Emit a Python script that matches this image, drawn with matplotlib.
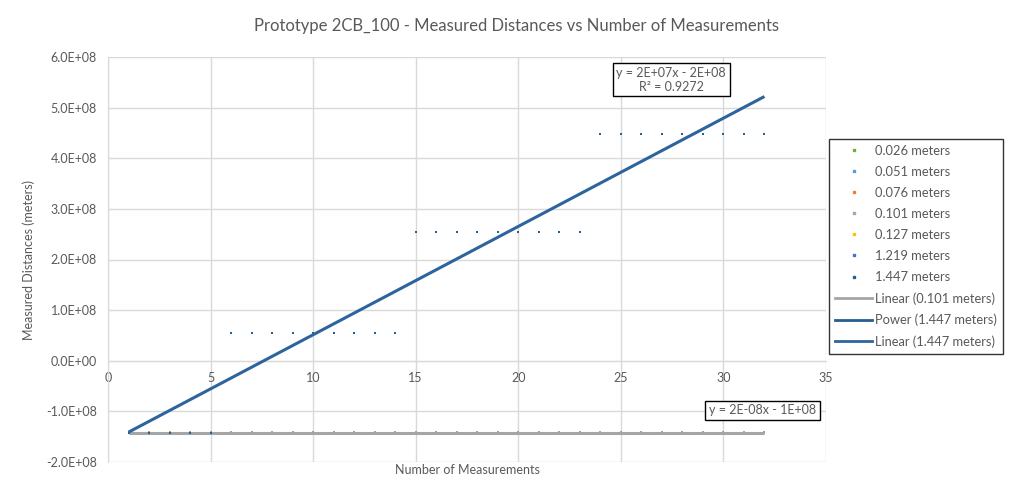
import numpy as np
import matplotlib
matplotlib.use("Agg")
import matplotlib.pyplot as plt
from matplotlib.lines import Line2D
from matplotlib.ticker import FuncFormatter, MultipleLocator

plt.rcParams['font.family'] = ['Lato', 'DejaVu Sans']

# ---- data ----
measurements = list(range(1, 33))
series_names = ["0.026 meters", "0.051 meters", "0.076 meters", "0.101 meters",
                "0.127 meters", "1.219 meters", "1.447 meters"]
series_colors = ["#70ad47", "#5b9bd5", "#ed7d31", "#a5a5a5", "#ffc000", "#4472c4", "#255e91"]

dist_0101 = [-1.42e8] * 32
dist_0076 = [-1.41e8] * 32
dist_1447 = ([-1.42e8] * 5 + [0.55e8] * 9 + [2.54e8] * 9 + [4.47e8] * 9)

title = "Prototype 2CB_100 - Measured Distances vs Number of Measurements"
xlabel = "Number of Measurements"
ylabel = "Measured Distances (meters)"
eq_1447 = "y = 2E+07x - 2E+08\nR² = 0.9272"
eq_0101 = "y = 2E-08x - 1E+08"

# ---- figure ----
fig = plt.figure(figsize=(10.16, 4.96), dpi=100)
ax = fig.add_axes([108/1016, 1-462/496, (826-108)/1016, (462-57)/496])

grid_c = "#d9d9d9"
text_c = "#595959"

x = np.array(measurements, dtype=float)

# trendlines
c1 = np.polyfit(x, dist_0101, 1)
xt = np.array([x.min(), x.max()])
ax.plot(xt, np.polyval(c1, xt), color="#a5a5a5", lw=2.2, zorder=2, solid_capstyle='butt')
c2 = np.polyfit(x, dist_1447, 1)
ax.plot(xt, np.polyval(c2, xt), color="#2e649e", lw=2.2, zorder=5, solid_capstyle='butt')

ax.scatter(x, dist_0101, s=4, marker='s', color=series_colors[3], zorder=3, linewidths=0)
ax.scatter(x, dist_0076, s=4, marker='s', color="#c09a7a", zorder=3.5, linewidths=0)
ax.scatter(x, dist_1447, s=4, marker='s', color=series_colors[6], zorder=4, linewidths=0)

ax.set_xlim(0, 35)
ax.set_ylim(-2e8, 6e8)
ax.xaxis.set_major_locator(MultipleLocator(5))
ax.yaxis.set_major_locator(MultipleLocator(1e8))
ax.yaxis.set_major_formatter(FuncFormatter(lambda v, p: f"{v:.1E}"))
ax.grid(True, color=grid_c, lw=1)
ax.set_axisbelow(True)
for s in ['top', 'right']:
    ax.spines[s].set_visible(False)
ax.spines['left'].set_color(grid_c)
ax.spines['bottom'].set_position(('data', 0))
ax.spines['bottom'].set_color(grid_c)
ax.tick_params(length=0, labelsize=9, colors=text_c, pad=8)
ax.tick_params(axis='x', pad=8)

fig.text(516/1016, 1-26/496, title, fontsize=12, color=text_c, ha='center', va='center')
ax.set_ylabel(ylabel, fontsize=9, color=text_c, labelpad=8)
fig.text((108+826)/2/1016, 1-470/496, xlabel, fontsize=9, color=text_c, ha='center', va='center')

bbox = dict(boxstyle='square,pad=0.3', fc='white', ec='black', lw=1)
ax.text(27.45, 5.55e8, eq_1447, fontsize=9, color=text_c,
        ha='center', va='center', bbox=bbox, linespacing=1.15, zorder=6)
ax.text(31.9, -0.98e8, eq_0101, fontsize=9, color=text_c,
        ha='center', va='center', bbox=bbox, zorder=6)

handles = [Line2D([], [], marker='s', ms=1.6, ls='none', color=c, mec=c) for c in series_colors]
handles += [Line2D([], [], color="#a5a5a5", lw=2),
            Line2D([], [], color="#255e91", lw=2),
            Line2D([], [], color="#2e649e", lw=2)]
labels = series_names + ["Linear (0.101 meters)", "Power (1.447 meters)", "Linear (1.447 meters)"]
leg = fig.legend(handles, labels, loc='upper left', bbox_to_anchor=(829/1016, 1-139/496),
                 fontsize=9.3, frameon=True, fancybox=False, edgecolor='black',
                 handlelength=2.9, handletextpad=0.2, labelspacing=0.70, borderpad=0.45,
                 borderaxespad=0, labelcolor=text_c)
leg.get_frame().set_linewidth(1)

fig.savefig("out.png", dpi=100)
